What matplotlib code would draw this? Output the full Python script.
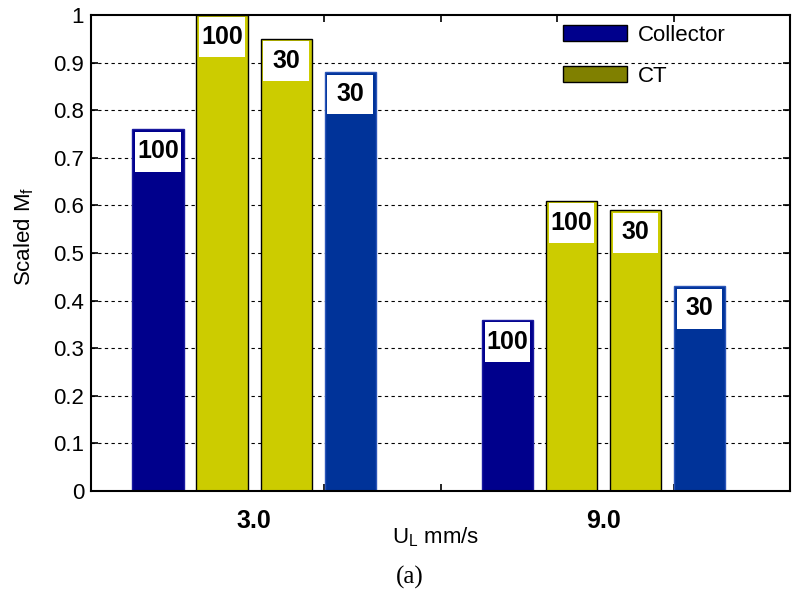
import numpy as np
import matplotlib.pyplot as plt
from matplotlib.patches import Patch, Rectangle

# Data
groups = ['3.0', '9.0']
group_pos = [1.4, 4.4]
series_names = ['Collector 100', 'CT 100', 'CT 30', 'Collector 30']
series_tags = ['100', '100', '30', '30']
collector_100 = [0.76, 0.36]
ct_100 = [1.0, 0.61]
ct_30 = [0.95, 0.59]
collector_30 = [0.88, 0.43]
series_values = [collector_100, ct_100, ct_30, collector_30]

face_colors = ['#00008c', '#cccc00', '#cccc00', '#003399']
edge_colors = ['#1a1aa0', 'black', 'black', '#2a55b8']
offsets = [-0.825, -0.275, 0.275, 0.825]
bar_width = 0.44

plt.rcParams['font.family'] = ['Liberation Sans', 'DejaVu Sans']

fig = plt.figure(figsize=(7.96, 5.92), dpi=100)
ax = fig.add_axes([91 / 796, 1 - 491 / 592, 699 / 796, 476 / 592])

for vals, off, fc, ec, tag in zip(series_values, offsets, face_colors, edge_colors, series_tags):
    xs = np.array(group_pos) + off
    ax.bar(xs, vals, width=bar_width, color=fc, edgecolor=ec, linewidth=1, zorder=2)
    # white label boxes near the top of every bar
    for x, v in zip(xs, vals):
        ax.add_patch(Rectangle((x - 0.195, v - 0.089), 0.39, 0.084,
                               facecolor='white', edgecolor='none', zorder=3))
        ax.text(x, v - 0.046, tag, ha='center', va='center', fontsize=18,
                fontweight='bold', color='black', zorder=4)

# axes styling (matlab look)
ax.set_xlim(0, 6)
ax.set_ylim(0, 1)
ax.set_xticks([1, 2, 3, 4, 5])
ax.set_xticklabels([])
ax.set_yticks(np.arange(0, 1.01, 0.1))
ax.set_yticklabels(['0', '0.1', '0.2', '0.3', '0.4', '0.5', '0.6', '0.7', '0.8', '0.9', '1'])
ax.tick_params(axis='both', direction='in', length=5, width=1.2, top=True, right=True,
               labelsize=16, pad=5)
for s in ax.spines.values():
    s.set_linewidth(1.5)
for y in np.arange(0.1, 0.95, 0.1):
    ax.axhline(y, color='black', linestyle=(0, (3, 3)), linewidth=0.8, zorder=1)

# group labels and axis labels
for x, g in zip(group_pos, groups):
    ax.text(x, -0.062, g, transform=ax.transData, ha='center', va='center',
            fontsize=18, fontweight='bold', clip_on=False)
fig.text(436 / 796, 1 - 537 / 592, r'U$_\mathregular{L}$ mm/s', ha='center', va='center', fontsize=16)
fig.text(24 / 796, 1 - 236 / 592, r'Scaled M$_\mathregular{f}$', ha='center', va='center',
         rotation=90, fontsize=16)
fig.text(410 / 796, 1 - 577 / 592, '(a)', ha='center', va='center', fontsize=18,
         family=['Liberation Serif', 'DejaVu Serif'])

# legend
handles = [Patch(facecolor='#00008c', edgecolor='black', label='Collector'),
           Patch(facecolor='#808000', edgecolor='black', label='CT')]
ax.legend(handles=handles, loc='upper left', bbox_to_anchor=((563 - 91) / 699, 0.98),
          frameon=False, fontsize=16, handlelength=2.9, handleheight=0.75,
          labelspacing=0.9, borderpad=0, borderaxespad=0, handletextpad=0.45)

plt.savefig('out.png', dpi=100)
plt.close()
